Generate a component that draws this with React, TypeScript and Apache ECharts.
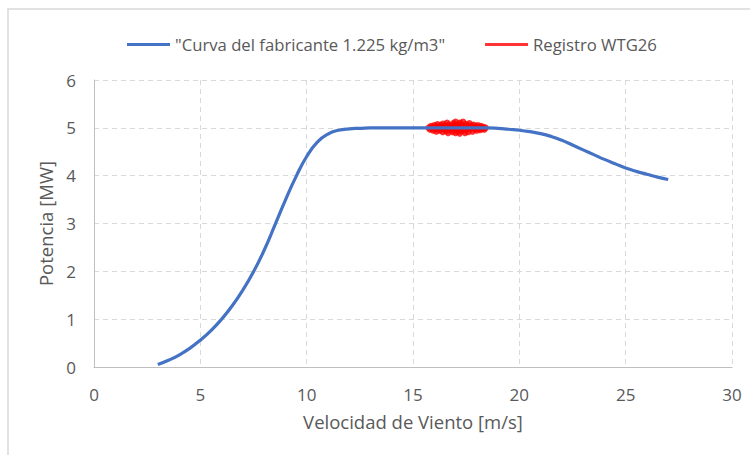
import React, { useEffect, useRef } from "react";
import * as echarts from "echarts";

const windSpeed = [3, 3.5, 4, 4.5, 5, 5.5, 6, 6.5, 7, 7.5, 8, 8.5, 9, 9.5, 10, 10.5, 11, 11.5, 12, 12.5, 13, 13.5, 14, 14.5, 15, 15.5, 16, 16.5, 17, 17.5, 18, 18.5, 19, 19.5, 20, 20.5, 21, 21.5, 22, 22.5, 23, 23.5, 24, 24.5, 25, 25.5, 26, 26.5, 27];
const powerCurve = [0.05, 0.14, 0.25, 0.39, 0.56, 0.76, 1.0, 1.28, 1.61, 1.99, 2.44, 2.96, 3.49, 3.98, 4.4, 4.7, 4.87, 4.95, 4.98, 4.99, 5.0, 5.0, 5.0, 5.0, 5.0, 5.0, 5.0, 5.0, 5.0, 5.0, 5.0, 5.0, 4.99, 4.97, 4.95, 4.92, 4.88, 4.82, 4.74, 4.64, 4.54, 4.44, 4.34, 4.25, 4.16, 4.09, 4.03, 3.97, 3.92];

const registroWind = [15.75, 15.8, 15.85, 15.9, 15.95, 16.0, 16.0, 16.05, 16.1, 16.1, 16.15, 16.2, 16.25, 16.3, 16.3, 16.35, 16.4, 16.4, 16.45, 16.5, 16.55, 16.6, 16.6, 16.65, 16.7, 16.7, 16.75, 16.8, 16.85, 16.9, 16.9, 16.95, 17.0, 17.0, 17.0, 17.05, 17.1, 17.1, 17.15, 17.2, 17.2, 17.25, 17.3, 17.3, 17.35, 17.4, 17.45, 17.5, 17.5, 17.55, 17.6, 17.6, 17.65, 17.7, 17.75, 17.8, 17.85, 17.9, 17.95, 18.0, 18.0, 18.05, 18.1, 18.15, 18.2, 18.25, 18.3, 18.35, 18.4];
const registroPower = [5.0, 4.97, 5.03, 5.0, 4.95, 5.05, 4.99, 4.98, 5.02, 4.93, 5.07, 5.0, 4.95, 5.05, 4.99, 5.01, 4.92, 5.08, 4.98, 5.04, 4.94, 5.1, 5.0, 4.9, 5.06, 4.99, 4.97, 5.02, 4.92, 5.09, 4.99, 5.04, 4.9, 5.12, 5.0, 4.97, 5.06, 4.93, 5.01, 5.1, 4.89, 4.97, 5.05, 4.94, 5.12, 5.0, 4.9, 5.07, 4.96, 5.02, 4.92, 5.0, 5.09, 4.99, 5.04, 4.93, 5.06, 4.98, 5.02, 4.95, 5.0, 5.05, 4.99, 4.96, 5.03, 4.98, 5.01, 4.97, 5.0];

const xTicks = [0, 5, 10, 15, 20, 25, 30];
const yTicks = [0, 1, 2, 3, 4, 5, 6];

const curveName = '"Curva del fabricante 1.225 kg/m3"';
const registroName = "Registro WTG26";

export default function App() {
  const ref = useRef<HTMLDivElement>(null);
  useEffect(() => {
    if (!ref.current) return;
    const chart = echarts.init(ref.current, null, { renderer: "svg" });
    const font = "'Open Sans', sans-serif";
    const textColor = "#595959";
    chart.setOption({
      animation: false,
      backgroundColor: "#ffffff",
      textStyle: { fontFamily: font },
      graphic: [
        {
          type: "rect",
          shape: { x: 8, y: 9, width: 760, height: 460 },
          style: { fill: "none", stroke: "#d9d9d9", lineWidth: 1.5 },
          silent: true,
        },
      ],
      legend: {
        left: 122,
        top: 31,
        itemWidth: 43,
        itemHeight: 3,
        itemGap: 40,
        icon: "rect",
        textStyle: { fontFamily: font, fontSize: 16.7, color: textColor },
        data: [
          { name: curveName, itemStyle: { color: "#4472C4" } },
          { name: registroName, itemStyle: { color: "#FF0000" } },
        ],
      },
      grid: { left: 94, right: 18, top: 80, bottom: 88, containLabel: false },
      xAxis: {
        type: "value",
        min: xTicks[0],
        max: xTicks[xTicks.length - 1],
        interval: 5,
        name: "Velocidad de Viento [m/s]",
        nameLocation: "middle",
        nameGap: 45,
        nameTextStyle: { fontFamily: font, fontSize: 18.5, color: textColor },
        axisLine: { show: true, lineStyle: { color: "#bfbfbf", width: 1 } },
        axisTick: { show: false },
        axisLabel: { margin: 19, fontFamily: font, fontSize: 17, color: textColor },
        splitLine: { show: true, lineStyle: { color: "#d9d9d9", type: [5, 4], width: 1 } },
      },
      yAxis: {
        type: "value",
        min: yTicks[0],
        max: yTicks[yTicks.length - 1],
        interval: 1,
        name: "Potencia [MW]",
        nameLocation: "middle",
        nameGap: 35.5,
        nameTextStyle: { fontFamily: font, fontSize: 18.5, color: textColor },
        axisLine: { show: true, lineStyle: { color: "#bfbfbf", width: 1 } },
        axisTick: { show: false },
        axisLabel: { margin: 18, fontFamily: font, fontSize: 17, color: textColor },
        splitLine: { show: true, lineStyle: { color: "#d9d9d9", type: [5, 4], width: 1 } },
      },
      series: [
        {
          name: curveName,
          type: "line",
          data: windSpeed.map((w, i) => [w, powerCurve[i]]),
          smooth: 0.5,
          showSymbol: false,
          symbol: "none",
          lineStyle: { color: "#4472C4", width: 3.2 },
          itemStyle: { color: "#4472C4" },
        },
        {
          name: registroName,
          type: "scatter",
          data: registroWind.map((w, i) => [w, registroPower[i]]),
          symbol: "circle",
          symbolSize: 7,
          itemStyle: { color: "#FF0000" },
        },
      ],
    });
    return () => chart.dispose();
  }, []);
  return (
    <div
      ref={ref}
      style={{ position: "absolute", left: 0, top: 0, width: 750, height: 455 }}
    />
  );
}
